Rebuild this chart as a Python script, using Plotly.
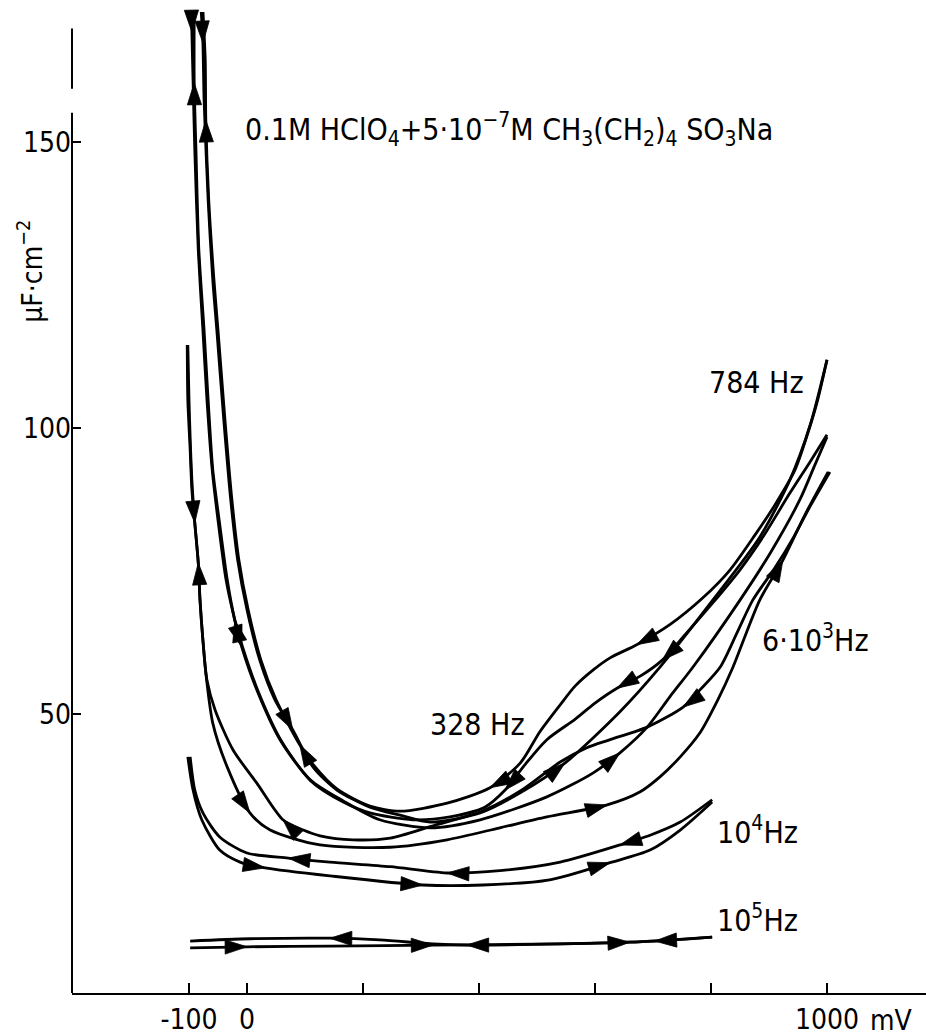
import plotly.graph_objects as go

FONT = "DejaVu Sans Condensed, Liberation Sans Narrow, DejaVu Sans, sans-serif"

# ---------------- axis ticks ----------------
x_tickvals = [-100, 0, 1000]
x_ticktext = ["-100", "0", "1000"]
x_minor_ticks = [200, 400, 600, 800]
y_tickvals = [50, 100, 150]
y_ticktext = ["50", "100", "150"]

# ---------------- curves (potential mV, capacitance uF/cm2) ----------------
# loop with top end ~112 (784 Hz), anodic (forward) branch
l1_fwd_v = [-79, -76, -74, -67, -59, -52, -40, -28, -16, 0, 22, 48, 79, 114, 155, 212, 264, 316,
            402, 471, 548, 643, 712, 803, 884, 936, 971, 1000]
l1_fwd_c = [173, 167.3, 157.4, 139.9, 125.9, 117.1, 101.4, 87.4, 76.9, 68.2, 59.4, 52.5, 47.2, 40.7,
            36.7, 33.7, 32.3, 31.1, 32.7, 36.2, 41.4, 50.4, 58.2, 69.9, 80.9, 90.9, 100.5, 111.9]
l1_fwd_arrows = [1, 12, 20]
# cathodic (reverse) branch
l1_rev_v = [1000, 984, 967, 945, 910, 876, 833, 786, 729, 672, 626, 597, 566, 540, 505, 471, 419, 345,
            264, 212, 155, 116, 91, 50, 24, 2, -14, -26, -38, -50, -57, -66, -71, -72, -76]
l1_rev_c = [111.9, 104.9, 99.1, 92.7, 86.5, 81.3, 75.2, 70.3, 65.6, 62.1, 59.8, 57.7, 54.9, 51.6, 46.9,
            41.4, 37.1, 34.4, 33.0, 33.9, 36.9, 40.9, 44.6, 52.5, 59.4, 68.2, 76.9, 87.4, 101.4, 117.1,
            125.9, 139.9, 153.8, 164.3, 173]
l1_rev_arrows = [9, 16, 22, 32]

# loop with top end ~99 (328 Hz)
l2_fwd_v = [-95, -95, -93, -90, -84, -76, -69, -60, -50, -36, -22, -9, 17, 57, 109, 166, 229, 316,
            402, 517, 597, 643, 690, 729, 769, 850, 902, 953, 979, 1000]
l2_fwd_c = [173, 169.2, 160.8, 148.6, 131.1, 117.1, 104.9, 92.7, 83.9, 73.4, 66.8, 61.7, 54.2, 45.5,
            38.5, 34.8, 31.5, 30.1, 31.5, 35.5, 39.7, 43.2, 47.7, 53.0, 58.2, 69.9, 78.1, 87.4, 93.5, 98.4]
l2_fwd_arrows = [1, 11, 21]
l2_rev_v = [1000, 971, 936, 890, 850, 803, 755, 716, 678, 638, 600, 566, 517, 479, 445, 410, 350, 286,
            212, 166, 110, 59, 19, -7, -21, -34, -48, -59, -67, -74, -83, -88, -91, -91]
l2_rev_c = [98.8, 94.1, 88.6, 81.0, 75.2, 69.4, 63.8, 59.4, 56.6, 54.5, 51.9, 49.1, 45.5, 41.1, 36.7,
            33.7, 32.0, 31.5, 32.7, 34.6, 38.3, 45.3, 54.0, 61.5, 66.4, 73.4, 83.9, 92.7, 104.9, 117.1,
            131.1, 148.6, 160.3, 173]
l2_rev_arrows = [7, 9, 14, 24, 32]

# 6*10^3 Hz loop
l3_fwd_v = [-103, -102, -98, -95, -90, -84, -81, -76, -71, -59, -34, 5, 40, 126, 247, 345, 436, 517,
            621, 678, 712, 747, 781, 812, 838, 884, 924, 962, 1002]
l3_fwd_c = [114.5, 104.9, 96.2, 89.2, 83.4, 76.4, 69.9, 62.9, 57.2, 48.4, 40.7, 32.7, 29.7, 27.1, 26.7,
            28.0, 30.1, 32.0, 34.1, 36.4, 39.0, 42.5, 46.7, 52.5, 58.2, 69.9, 76.9, 84.8, 92.3]
l3_fwd_arrows = [4, 11, 18, 26]
l3_rev_v = [1005, 972, 943, 910, 872, 845, 816, 781, 752, 690, 626, 586, 540, 474, 405, 319, 247, 183,
            126, 97, 62, 17, -24, -55, -69, -76, -81, -84, -90, -95, -100, -102]
l3_rev_c = [92.3, 86.5, 81.0, 75.5, 69.9, 64.2, 58.2, 54.2, 51.2, 47.7, 45.5, 44.1, 41.6, 36.7, 33.0,
            30.4, 28.3, 28.0, 28.7, 29.7, 31.5, 37.9, 43.7, 50.7, 55.9, 62.9, 69.9, 76.4, 83.4, 90.9,
            104.9, 114.5]
l3_rev_arrows = [8, 20, 27]

# 10^4 Hz loop
l4_fwd_v = [-102, -93, -78, -47, -12, 31, 143, 303, 407, 522, 626, 695, 747, 802]
l4_fwd_c = [42.5, 36.7, 31.5, 26.2, 24.1, 23.1, 21.7, 20.1, 20.1, 21.0, 24.0, 26.2, 29.7, 34.6]
l4_fwd_arrows = [5, 7, 10]
l4_rev_v = [802, 747, 695, 643, 540, 436, 345, 247, 143, 71, 0, -47, -76, -90, -98]
l4_rev_c = [35.0, 31.1, 28.8, 27.1, 24.1, 22.6, 22.2, 23.3, 24.1, 24.8, 25.7, 28.5, 32.7, 36.7, 42.5]
l4_rev_arrows = [3, 6, 9]

# 10^5 Hz loop
l5_fwd_v = [-98, 0, 143, 321, 540, 660, 802]
l5_fwd_c = [9.1, 9.3, 9.4, 9.6, 9.8, 10.1, 11.0]
l5_fwd_arrows = [1, 3, 5]
l5_rev_v = [802, 703, 540, 379, 321, 229, 143, 5, -98]
l5_rev_c = [11.0, 10.3, 9.8, 9.6, 9.8, 10.5, 10.8, 10.7, 10.3]
l5_rev_arrows = [1, 3, 6]

branches = [
    (l1_fwd_v, l1_fwd_c, l1_fwd_arrows), (l1_rev_v, l1_rev_c, l1_rev_arrows),
    (l2_fwd_v, l2_fwd_c, l2_fwd_arrows), (l2_rev_v, l2_rev_c, l2_rev_arrows),
    (l3_fwd_v, l3_fwd_c, l3_fwd_arrows), (l3_rev_v, l3_rev_c, l3_rev_arrows),
    (l4_fwd_v, l4_fwd_c, l4_fwd_arrows), (l4_rev_v, l4_rev_c, l4_rev_arrows),
    (l5_fwd_v, l5_fwd_c, l5_fwd_arrows), (l5_rev_v, l5_rev_c, l5_rev_arrows),
]

fig = go.Figure()
ax_v, ax_c, ax_s = [], [], []
for v, c, arrows in branches:
    fig.add_trace(go.Scatter(x=v, y=c, mode="lines",
                             line=dict(color="black", width=2.8, shape="spline", smoothing=0.75),
                             hoverinfo="skip"))
    for i in arrows:
        j0, j1 = max(i - 1, 0), min(i + 1, len(v) - 1)
        dv, dc = v[j1] - v[j0], c[j1] - c[j0]
        ax_v += [v[i] - 0.02 * dv, v[i]]
        ax_c += [c[i] - 0.02 * dc, c[i]]
        ax_s += [0, 23]

fig.add_trace(go.Scatter(x=ax_v, y=ax_c, mode="markers",
                         marker=dict(symbol="arrow", size=ax_s, angleref="previous",
                                     color="black", opacity=1, line=dict(width=0.8, color="black")),
                         hoverinfo="skip", cliponaxis=False))

# ---------------- text ----------------
labels = [
    (793, 108.0, "784 Hz"),
    (312, 48.1, "328 Hz"),
    (884, 63.2, "6·10<sup>3</sup>Hz"),
    (807, 29.7, "10<sup>4</sup>Hz"),
    (807, 14.3, "10<sup>5</sup>Hz"),
]
for x, y, t in labels:
    fig.add_annotation(x=x, y=y, text=t, showarrow=False, xanchor="left", yanchor="middle",
                       font=dict(family=FONT, size=30, color="black"))

fig.add_annotation(x=-7, y=152.1, xanchor="left", yanchor="middle", showarrow=False,
                   text="0.1M HClO<sub>4</sub>+5·10<sup>−7</sup>M CH<sub>3</sub>(CH<sub>2</sub>)<sub>4</sub> SO<sub>3</sub>Na",
                   font=dict(family=FONT, size=30, color="black"))

fig.add_annotation(xref="paper", x=-0.072, y=127.3, textangle=-90, showarrow=False,
                   text="µF·cm<sup>−2</sup>", font=dict(family=FONT, size=28, color="black"))

fig.add_annotation(x=1112, yref="paper", y=-0.028, yanchor="middle", showarrow=False,
                   text="mV", font=dict(family=FONT, size=28, color="black"))

# y-axis line (with the small break near the top as in the original)
for y0, y1 in [(1.22, 155.1), (159.3, 169.8)]:
    fig.add_shape(type="line", xref="paper", x0=0, x1=0, yref="y", y0=y0, y1=y1,
                  line=dict(color="black", width=2))

fig.update_layout(
    width=926, height=1036, margin=dict(l=72, r=0, t=12, b=43),
    plot_bgcolor="white", paper_bgcolor="white", showlegend=False,
    xaxis=dict(range=[-301.7, 1170.7], showgrid=False, zeroline=False, showline=True,
               linecolor="black", linewidth=2, ticks="inside", ticklen=10, tickwidth=2,
               tickcolor="black", tickvals=x_tickvals, ticktext=x_ticktext,
               minor=dict(tickvals=x_minor_ticks, ticks="inside", ticklen=10, tickwidth=2,
                          tickcolor="black", showgrid=False),
               tickfont=dict(family=FONT, size=28, color="black")),
    yaxis=dict(range=[1.22, 172.7], showgrid=False, zeroline=False, showline=False,
               ticks="inside", ticklen=9, tickwidth=2, tickcolor="black",
               tickvals=y_tickvals, ticktext=y_ticktext,
               tickfont=dict(family=FONT, size=28, color="black")),
)

fig.write_html("out.html")
